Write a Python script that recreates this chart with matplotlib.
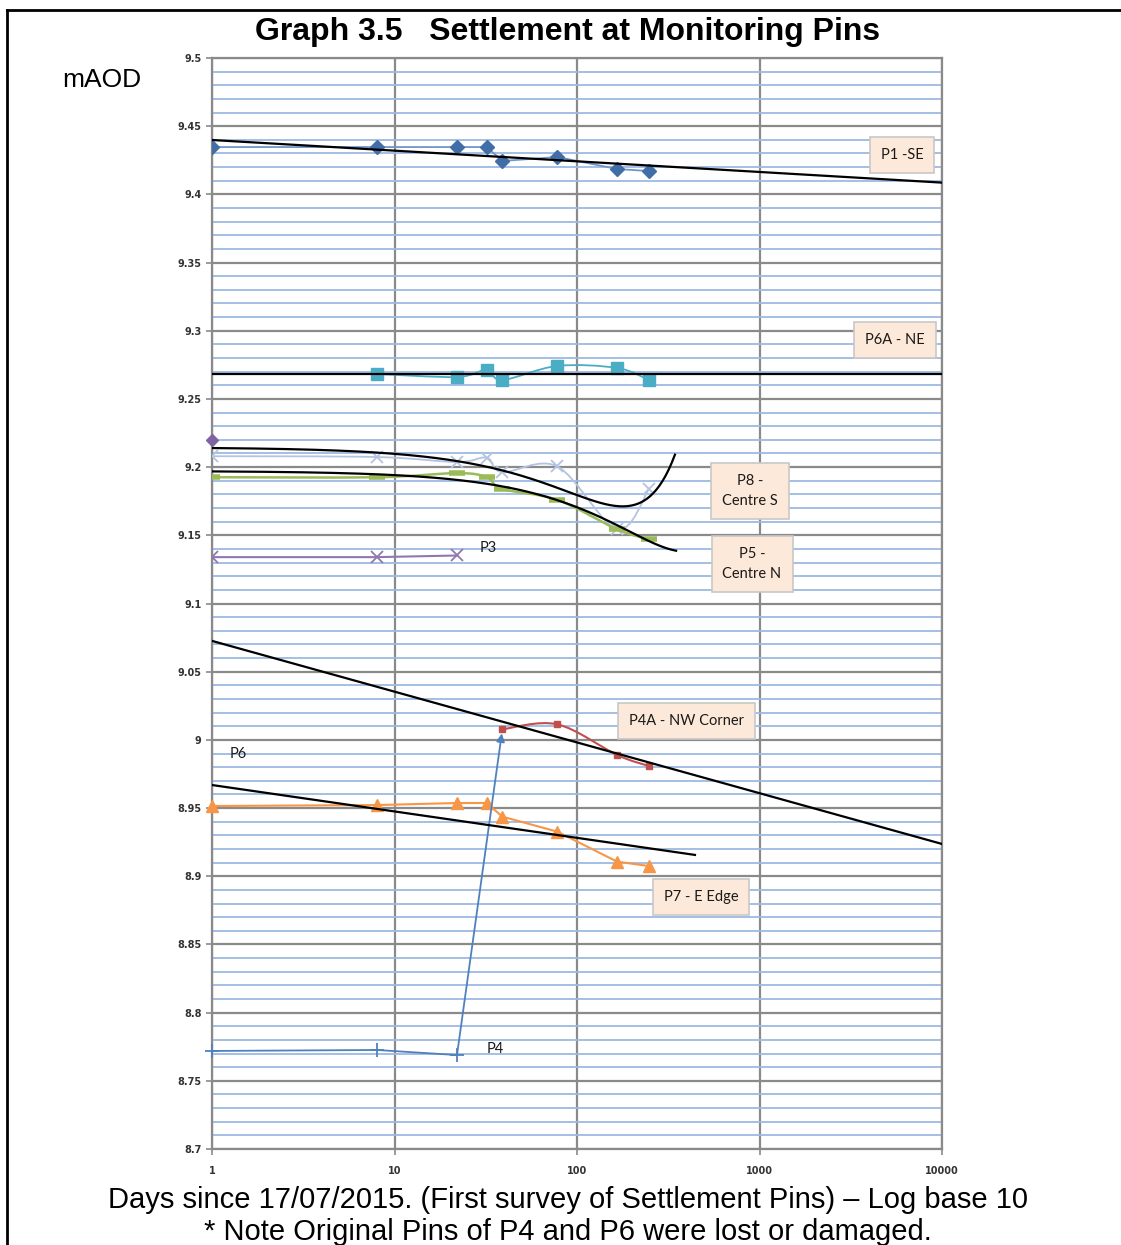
import numpy as np
import matplotlib
matplotlib.use("Agg")
import matplotlib.pyplot as plt
from matplotlib.lines import Line2D
from matplotlib.path import Path
from matplotlib.patches import PathPatch
from matplotlib.ticker import FixedLocator, MultipleLocator, FuncFormatter

# days since first survey (17/07/2015)
days = [1, 8, 22, 32, 39, 78, 166, 248]

# levels in mAOD
p1 = [9.4347, 9.4347, 9.4347, 9.4347, 9.4245, 9.4274, 9.4186, 9.4171]
p6a_days = [8, 22, 32, 39, 78, 166, 248]
p6a = [9.2683, 9.2661, 9.2713, 9.2639, 9.2742, 9.2727, 9.2639]
p8 = [9.2080, 9.2074, 9.2037, 9.2069, 9.1963, 9.2005, 9.1544, 9.1840]
p5 = [9.1926, 9.1926, 9.1956, 9.1926, 9.1840, 9.1760, 9.1544, 9.1470]
p3_days = [1, 8, 22]
p3 = [9.134, 9.134, 9.1352]
p6_days = [1]
p6 = [9.2197]
p4a_days = [39, 78, 166, 248]
p4a = [9.0078, 9.0114, 8.9889, 8.9808]
p7 = [8.9515, 8.9522, 8.9537, 8.9537, 8.9437, 8.9327, 8.9107, 8.9075]
p4_days = [1, 8, 22]
p4 = [8.7719, 8.7726, 8.7689]

# how far each trendline is drawn (days)
p1_trend_end = 10000
p6a_trend_end = 10000
p8_trend_end = 344
p5_trend_end = 349
p4a_trend_end = 10000
p7_trend_end = 443

fig = plt.figure(figsize=(11.21, 12.45), dpi=100)
ax = fig.add_axes([212 / 1121, 96 / 1245, 730 / 1121, 1091 / 1245])

ax.set_xscale("log")
ax.set_xlim(1, 10000)
ax.set_ylim(8.7, 9.5)

# grid: light blue every 0.01, grey every 0.05, grey at each decade
ax.yaxis.set_major_locator(MultipleLocator(0.05))
ax.yaxis.set_minor_locator(MultipleLocator(0.01))
ax.xaxis.set_major_locator(FixedLocator([1, 10, 100, 1000, 10000]))
ax.xaxis.set_minor_locator(FixedLocator([]))
ax.grid(which="minor", axis="y", color="#9db9e3", lw=1.3)
ax.grid(which="major", axis="y", color="#8a8a8a", lw=1.6)
ax.grid(which="major", axis="x", color="#8a8a8a", lw=1.6)
ax.set_axisbelow(True)
for s in ax.spines.values():
    s.set_color("#8a8a8a")
    s.set_linewidth(1.6)
ax.xaxis.set_major_formatter(FuncFormatter(lambda v, p: "%d" % v))
ax.yaxis.set_major_formatter(FuncFormatter(lambda v, p: "%g" % round(v, 2)))
ax.tick_params(axis="both", which="major", labelsize=7, colors="#8a8a8a",
               labelcolor="#333333", length=4, width=1.2)
ax.tick_params(axis="y", which="minor", length=0)
ax.tick_params(axis="x", pad=8)
for lab in ax.get_xticklabels() + ax.get_yticklabels():
    lab.set_fontweight("bold")


def log_trend(x, y, x_end):
    k, c = np.polyfit(np.log10(x), y, 1)
    xs = np.logspace(0, np.log10(x_end), 200)
    ax.plot(xs, c + k * np.log10(xs), color="black", lw=1.6, zorder=4)


def poly_trend(x, y, x_end):
    coef = np.polyfit(x, y, 2)
    xs = np.logspace(0, np.log10(x_end), 300)
    ax.plot(xs, np.polyval(coef, xs), color="black", lw=1.6, zorder=4)


def smooth_line(x, y, color, lw):
    # Excel-style smoothed line: bezier segments through the points,
    # handles worked out in screen-like units (log x, y)
    u = np.log10(x) * 182.5
    v = np.asarray(y) * 1363.75
    n = len(u)
    verts = [(u[0], v[0])]
    codes = [Path.MOVETO]
    for i in range(n - 1):
        u0, v0 = (u[i - 1], v[i - 1]) if i > 0 else (u[i], v[i])
        u3, v3 = (u[i + 2], v[i + 2]) if i + 2 < n else (u[i + 1], v[i + 1])
        c1 = (u[i] + (u[i + 1] - u0) / 6, v[i] + (v[i + 1] - v0) / 6)
        c2 = (u[i + 1] - (u3 - u[i]) / 6, v[i + 1] - (v3 - v[i]) / 6)
        verts += [c1, c2, (u[i + 1], v[i + 1])]
        codes += [Path.CURVE4] * 3
    verts = [(10 ** (a / 182.5), b / 1363.75) for a, b in verts]
    ax.add_patch(PathPatch(Path(verts, codes), fc="none", ec=color, lw=lw,
                           zorder=3))


# series
ax.plot(days, p1, color="#6f95cb", lw=1.3, marker="D", ms=7,
        mfc="#416ea6", mec="#416ea6", zorder=3)
smooth_line(p6a_days, p6a, "#4bacc6", 1.3)
ax.plot(p6a_days, p6a, lw=0, marker="s", ms=9, color="#4bacc6", zorder=3)
smooth_line(days, p8, "#b4c3e2", 1.3)
ax.plot(days, p8, lw=0, color="#b4c3e2", marker="x", ms=9, mew=1.3, zorder=3)
smooth_line(days, p5, "#9bbb59", 1.8)
ax.plot(days, p5, lw=0, color="#9bbb59", marker="_", ms=11, mew=4, zorder=3)
ax.plot(p3_days, p3, color="#8e79b0", lw=1.5, marker="x", ms=8, mew=1.3, zorder=3)
ax.plot(p6_days, p6, color="#8064a2", lw=0, marker="D", ms=6, zorder=3,
        clip_on=False)
smooth_line(p4a_days, p4a, "#c0504d", 1.5)
ax.plot(p4a_days, p4a, lw=0, color="#c0504d", marker="s", ms=4, zorder=3)
ax.plot(days, p7, color="#f79646", lw=1.5, marker="^", ms=9, zorder=3,
        clip_on=False)
ax.plot(p4_days, p4, color="#4f81bd", lw=1.3, marker="+", ms=10, mew=1.3,
        zorder=3, clip_on=False)

# P4 replaced by P4A
ax.annotate("", xy=(p4a_days[0], p4a[0]), xytext=(p4_days[-1], p4[-1]),
            arrowprops=dict(arrowstyle="-|>", color="#4f81bd", lw=1.3,
                            shrinkA=0, shrinkB=3, mutation_scale=12), zorder=3)

# trendlines
log_trend(days, p1, p1_trend_end)
ax.plot([1, p6a_trend_end], [np.mean(p6a)] * 2, color="black", lw=1.6, zorder=4)
poly_trend(days, p8, p8_trend_end)
poly_trend(days, p5, p5_trend_end)
log_trend(p4a_days, p4a, p4a_trend_end)
log_trend(days, p7, p7_trend_end)

# labels
box = dict(boxstyle="square,pad=0.75", fc="#fde9d9", ec="#c8c8c8", lw=1.2)
lab_kw = dict(fontsize=10.5, family="Lato", color="#1a1a1a", zorder=6)
ax.text(6040, 9.4289, "P1 -SE", ha="center", va="center", bbox=box, **lab_kw)
ax.text(5525, 9.2932, "P6A - NE", ha="center", va="center", bbox=box, **lab_kw)
ax.text(887, 9.1825, "P8 -\nCentre S", ha="center", va="center", bbox=box,
        linespacing=1.6, **lab_kw)
ax.text(910, 9.1290, "P5 -\nCentre N", ha="center", va="center", bbox=box,
        linespacing=1.6, **lab_kw)
ax.text(396, 9.0138, "P4A - NW Corner", ha="center", va="center", bbox=box,
        **lab_kw)
ax.text(478, 8.8848, "P7 - E Edge", ha="center", va="center", bbox=box,
        **lab_kw)
ax.text(32.5, 9.1407, "P3", ha="center", va="center", **lab_kw)
ax.text(1.39, 8.9896, "P6", ha="center", va="center", **lab_kw)
ax.text(35.5, 8.7733, "P4", ha="center", va="center", **lab_kw)

# titles and notes
fig.text(568 / 1121, 1 - 32 / 1245, "Graph 3.5   Settlement at Monitoring Pins",
         ha="center", va="center", fontsize=23, fontweight="bold",
         family="Liberation Sans")
fig.text(102 / 1121, 1 - 80 / 1245, "mAOD", ha="center", va="center",
         fontsize=19, family="Liberation Sans")
fig.text(568 / 1121, 1 - 1200 / 1245,
         "Days since 17/07/2015. (First survey of Settlement Pins) \u2013 Log base 10",
         ha="center", va="center", fontsize=21, family="Liberation Sans")
fig.text(568 / 1121, 1 - 1232 / 1245,
         "* Note Original Pins of P4 and P6 were lost or damaged.",
         ha="center", va="center", fontsize=21, family="Liberation Sans")

# page frame
fig.add_artist(Line2D([7 / 1121, 1], [1 - 10 / 1245] * 2, color="black", lw=2))
fig.add_artist(Line2D([7 / 1121] * 2, [0, 1 - 10 / 1245], color="black", lw=2))

fig.savefig("out.png", dpi=100)
